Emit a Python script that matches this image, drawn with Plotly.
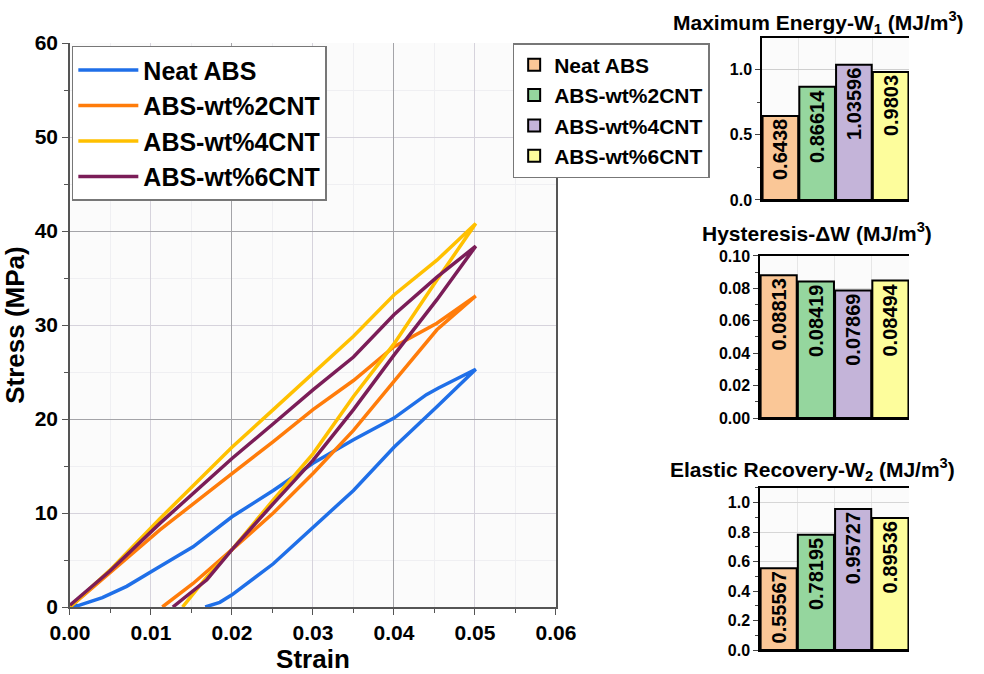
import plotly.graph_objects as go

# ---------------- data ----------------
series_names = ["Neat ABS", "ABS-wt%2CNT", "ABS-wt%4CNT", "ABS-wt%6CNT"]
line_colors = ["#1f6fe8", "#ff7c0a", "#ffc000", "#7b1d58"]
bar_colors = ["#fac797", "#95d69e", "#c4b4d9", "#fdfd9c"]

# loading + unloading loops (strain, stress MPa)
neat_strain = [0, 0.0012, 0.0040, 0.0070, 0.0111, 0.0152, 0.0200, 0.0251, 0.0300, 0.0350, 0.0400, 0.0440, 0.0455, 0.0501,
               0.0453, 0.0400, 0.0350, 0.0300, 0.0251, 0.0200, 0.0185, 0.0167]
neat_stress = [0, 0.2, 1.0, 2.2, 4.3, 6.4, 9.6, 12.4, 15.3, 17.8, 20.1, 22.6, 23.3, 25.3,
               21.3, 17.0, 12.4, 8.5, 4.6, 1.3, 0.5, 0]
cnt2_strain = [0, 0.0049, 0.0111, 0.0200, 0.0251, 0.0300, 0.0350, 0.0400, 0.0453, 0.0501,
               0.0453, 0.0400, 0.0350, 0.0300, 0.0251, 0.0200, 0.0152, 0.0114]
cnt2_stress = [0, 3.6, 8.2, 14.2, 17.6, 21.0, 24.1, 27.7, 30.2, 33.1,
               29.5, 24.0, 18.8, 14.2, 10.0, 6.1, 2.5, 0]
cnt4_strain = [0, 0.0049, 0.0111, 0.0200, 0.0251, 0.0300, 0.0350, 0.0400, 0.0453, 0.0501,
               0.0453, 0.0400, 0.0350, 0.0300, 0.0251, 0.0200, 0.0169, 0.0139]
cnt4_stress = [0, 3.9, 9.4, 17.0, 21.0, 24.8, 28.8, 33.2, 36.9, 40.8,
               34.8, 28.0, 22.4, 16.3, 11.4, 6.1, 3.2, 0]
cnt6_strain = [0, 0.0049, 0.0111, 0.0200, 0.0251, 0.0300, 0.0350, 0.0400, 0.0453, 0.0501,
               0.0453, 0.0400, 0.0350, 0.0300, 0.0251, 0.0200, 0.0169, 0.0127]
cnt6_stress = [0.2, 3.8, 8.9, 15.8, 19.5, 23.1, 26.6, 31.1, 35.1, 38.4,
               32.7, 26.8, 21.0, 15.6, 11.0, 6.1, 2.9, 0]

max_energy_w1 = [0.6438, 0.86614, 1.03596, 0.9803]
hysteresis_dw = [0.08813, 0.08419, 0.07869, 0.08494]
elastic_w2 = [0.55567, 0.78195, 0.95727, 0.89536]
w1_labels = ["0.6438", "0.86614", "1.03596", "0.9803"]
dw_labels = ["0.08813", "0.08419", "0.07869", "0.08494"]
w2_labels = ["0.55567", "0.78195", "0.95727", "0.89536"]

FONT = "Liberation Sans, Arial, sans-serif"

fig = go.Figure()

loops = [(neat_strain, neat_stress), (cnt2_strain, cnt2_stress),
         (cnt4_strain, cnt4_stress), (cnt6_strain, cnt6_stress)]
for name, col, (sx, sy) in zip(series_names, line_colors, loops):
    fig.add_trace(go.Scatter(x=sx, y=sy, mode="lines", name=name,
                             line=dict(color=col, width=3.5), xaxis="x", yaxis="y",
                             legend="legend"))

# dummy trace to host darker grid overlay axes
fig.add_trace(go.Scatter(x=[None], y=[None], xaxis="x5", yaxis="y5", showlegend=False,
                         hoverinfo="skip"))

bar_sets = [(max_energy_w1, w1_labels, "x2", "y2", True),
            (hysteresis_dw, dw_labels, "x3", "y3", False),
            (elastic_w2, w2_labels, "x4", "y4", False)]
for vals, labs, xa, ya, show in bar_sets:
    for i, (name, col) in enumerate(zip(series_names, bar_colors)):
        fig.add_trace(go.Bar(x=[i], y=[vals[i]], text=[labs[i]], name=name,
                             marker=dict(color=col, line=dict(color="black", width=2)),
                             width=0.97, textposition="inside", textangle=-90,
                             insidetextanchor="end", constraintext="none",
                             textfont=dict(family=FONT, size=20, color="black", weight="bold"),
                             xaxis=xa, yaxis=ya, showlegend=show, legend="legend2"))

tickfont_main = dict(family=FONT, size=21, color="black", weight="bold")
tickfont_bar = dict(family=FONT, size=16, color="black", weight="bold")

main_x_dom = [0.0711, 0.565]
main_y_dom = [0.0994, 0.936]

bar_x = dict(range=[-0.5, 3.5], showticklabels=False, ticks="", showline=True,
             linecolor="black", linewidth=1.5, mirror=True, showgrid=True,
             gridcolor="#e6e6e6", dtick=1, tick0=0.5, zeroline=False, automargin=False)

fig.update_layout(
    width=984, height=674,
    margin=dict(l=0, r=0, t=0, b=0, autoexpand=False),
    paper_bgcolor="white", plot_bgcolor="#fbfbfb",
    barmode="overlay",
    font=dict(family=FONT, color="black"),
    xaxis=dict(domain=main_x_dom, anchor="y", range=[0, 0.06], dtick=0.01, tickformat=".2f",
               tickfont=tickfont_main, showline=True, linecolor="#555", linewidth=1.5,
               ticks="outside", ticklen=6, tickcolor="#555", mirror=False, automargin=False,
               showgrid=True, gridcolor="#d6d3dc", gridwidth=1, zeroline=False,
               minor=dict(dtick=0.005, ticks="outside", ticklen=4, tickcolor="#555",
                          showgrid=True, gridcolor="#efeff2"),
               title=dict(text="Strain", font=dict(family=FONT, size=26, weight="bold"),
                          standoff=8)),
    yaxis=dict(domain=main_y_dom, anchor="x", range=[0, 60], dtick=10,
               tickfont=tickfont_main, showline=True, linecolor="#555", linewidth=1.5,
               ticks="outside", ticklen=6, tickcolor="#555", mirror=True, automargin=False,
               showgrid=True, gridcolor="#d6d3dc", gridwidth=1, zeroline=False,
               minor=dict(dtick=5, ticks="outside", ticklen=4, tickcolor="#555",
                          showgrid=True, gridcolor="#efeff2"),
               title=dict(text="Stress (MPa)", font=dict(family=FONT, size=26, weight="bold"),
                          standoff=8)),
    xaxis5=dict(domain=main_x_dom, overlaying="x", anchor="y5", range=[0, 0.06], dtick=0.02,
                showticklabels=False, ticks="", showline=False, showgrid=True, automargin=False,
                gridcolor="#a4a4a8", zeroline=False),
    yaxis5=dict(domain=main_y_dom, overlaying="y", anchor="x5", range=[0, 60], dtick=20,
                showticklabels=False, ticks="", showline=False, showgrid=True, automargin=False,
                gridcolor="#a4a4a8", zeroline=False),
    xaxis2=dict(domain=[0.7744, 0.9238], anchor="y2", **bar_x),
    yaxis2=dict(domain=[0.7033, 0.9436], anchor="x2", range=[0, 1.24], dtick=0.5, tickformat=".1f",
                tickfont=tickfont_bar, showline=True, linecolor="black", linewidth=1.5,
                ticks="outside", ticklen=5, minor=dict(dtick=0.25, ticks="outside", ticklen=3),
                showgrid=True, gridcolor="#cfcfcf", zeroline=False, automargin=False),
    xaxis3=dict(domain=[0.7724, 0.9238], anchor="y3", **bar_x),
    yaxis3=dict(domain=[0.3798, 0.6202], anchor="x3", range=[0, 0.1], dtick=0.02, tickformat=".2f",
                tickfont=tickfont_bar, showline=True, linecolor="black", linewidth=1.5,
                ticks="outside", ticklen=5, minor=dict(dtick=0.01, ticks="outside", ticklen=3),
                showgrid=True, gridcolor="#e0e0e0", zeroline=False, automargin=False),
    xaxis4=dict(domain=[0.7724, 0.9238], anchor="y4", **bar_x),
    yaxis4=dict(domain=[0.0356, 0.276], anchor="x4", range=[0, 1.1], dtick=0.2, tickformat=".1f",
                tickfont=tickfont_bar, showline=True, linecolor="black", linewidth=1.5,
                ticks="outside", ticklen=5, minor=dict(dtick=0.1, ticks="outside", ticklen=3),
                showgrid=True, gridcolor="#d6d6d6", zeroline=False, automargin=False),
    legend=dict(x=0.073, y=0.932, xanchor="left", yanchor="top", bgcolor="white",
                bordercolor="#777", borderwidth=1.5, itemwidth=60,
                font=dict(family=FONT, size=25, color="black", weight="bold")),
    legend2=dict(x=0.521, y=0.936, xanchor="left", yanchor="top", bgcolor="white",
                 bordercolor="#777", borderwidth=1.5,
                 font=dict(family=FONT, size=21, color="black", weight="bold")),
    showlegend=True,
)

title_font = dict(family=FONT, size=21, color="black", weight="bold")
fig.add_annotation(text="Maximum Energy-W<sub>1</sub> (MJ/m<sup>3</sup>)", x=0.832, y=0.967,
                   xref="paper", yref="paper", xanchor="center", yanchor="middle",
                   showarrow=False, font=title_font)
fig.add_annotation(text="Hysteresis-\u0394W (MJ/m<sup>3</sup>)", x=0.830, y=0.656,
                   xref="paper", yref="paper", xanchor="center", yanchor="middle",
                   showarrow=False, font=title_font)
fig.add_annotation(text="Elastic Recovery-W<sub>2</sub> (MJ/m<sup>3</sup>)", x=0.826, y=0.303,
                   xref="paper", yref="paper", xanchor="center", yanchor="middle",
                   showarrow=False, font=title_font)

fig.write_html("out.html", config={"displayModeBar": False},
               post_script="document.body.style.margin='0px';")
